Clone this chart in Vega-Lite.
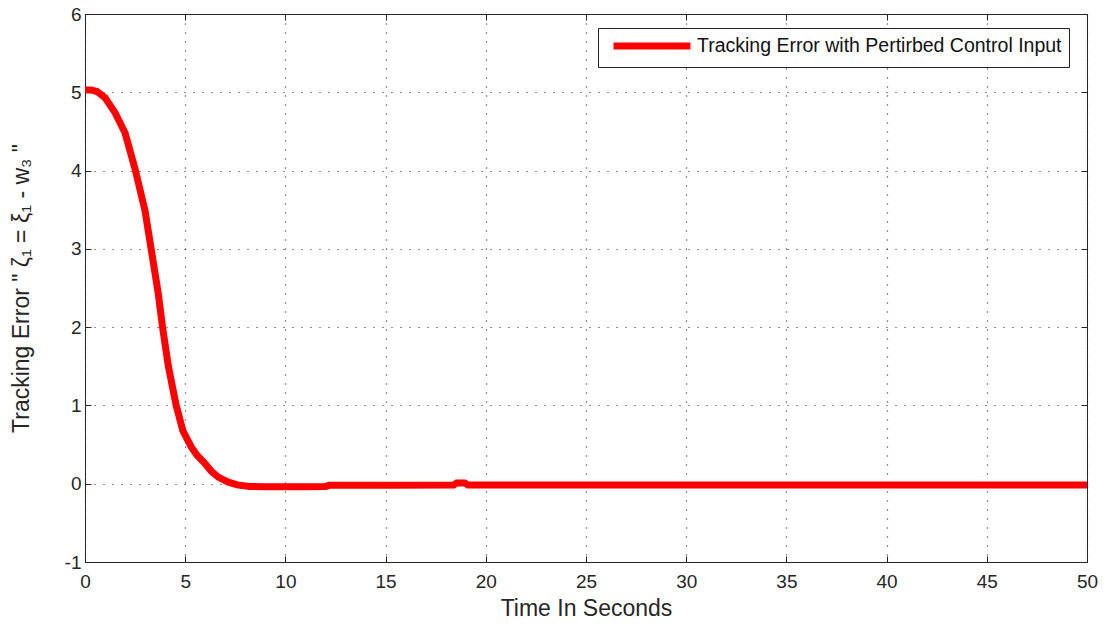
{
  "$schema": "https://vega.github.io/schema/vega-lite/v6.json",
  "autosize": "none",
  "width": 1002,
  "height": 548,
  "padding": {"left": 85, "top": 14, "right": 22, "bottom": 64},
  "background": "white",
  "config": {
    "view": {"stroke": "#262626", "strokeWidth": 1},
    "font": "Liberation Sans",
    "axis": {
      "labelFont": "Liberation Sans",
      "titleFont": "Liberation Sans",
      "labelFontSize": 19,
      "titleFontSize": 23,
      "labelColor": "#262626",
      "titleColor": "#262626",
      "titleFontWeight": "normal",
      "domainColor": "#262626",
      "tickColor": "#262626",
      "gridColor": "#222222",
      "gridOpacity": 1,
      "gridDash": [1, 8],
      "gridWidth": 1.2
    }
  },
  "data": {
    "values": [
      {"t": 0, "v": 5.03, "s": "Tracking Error with Pertirbed Control Input"},
      {"t": 0.3, "v": 5.03, "s": "Tracking Error with Pertirbed Control Input"},
      {"t": 0.6, "v": 5.01, "s": "Tracking Error with Pertirbed Control Input"},
      {"t": 1.0, "v": 4.93, "s": "Tracking Error with Pertirbed Control Input"},
      {"t": 1.5, "v": 4.74, "s": "Tracking Error with Pertirbed Control Input"},
      {"t": 2.0, "v": 4.48, "s": "Tracking Error with Pertirbed Control Input"},
      {"t": 2.5, "v": 4.02, "s": "Tracking Error with Pertirbed Control Input"},
      {"t": 3.0, "v": 3.48, "s": "Tracking Error with Pertirbed Control Input"},
      {"t": 3.3, "v": 3.0, "s": "Tracking Error with Pertirbed Control Input"},
      {"t": 3.65, "v": 2.44, "s": "Tracking Error with Pertirbed Control Input"},
      {"t": 3.87, "v": 2.0, "s": "Tracking Error with Pertirbed Control Input"},
      {"t": 4.16, "v": 1.5, "s": "Tracking Error with Pertirbed Control Input"},
      {"t": 4.55, "v": 1.0, "s": "Tracking Error with Pertirbed Control Input"},
      {"t": 4.88, "v": 0.68, "s": "Tracking Error with Pertirbed Control Input"},
      {"t": 5.3, "v": 0.47, "s": "Tracking Error with Pertirbed Control Input"},
      {"t": 5.6, "v": 0.36, "s": "Tracking Error with Pertirbed Control Input"},
      {"t": 5.98, "v": 0.26, "s": "Tracking Error with Pertirbed Control Input"},
      {"t": 6.3, "v": 0.16, "s": "Tracking Error with Pertirbed Control Input"},
      {"t": 6.65, "v": 0.085, "s": "Tracking Error with Pertirbed Control Input"},
      {"t": 7.15, "v": 0.02, "s": "Tracking Error with Pertirbed Control Input"},
      {"t": 7.6, "v": -0.015, "s": "Tracking Error with Pertirbed Control Input"},
      {"t": 8.2, "v": -0.035, "s": "Tracking Error with Pertirbed Control Input"},
      {"t": 9.0, "v": -0.04, "s": "Tracking Error with Pertirbed Control Input"},
      {"t": 10.0, "v": -0.04, "s": "Tracking Error with Pertirbed Control Input"},
      {"t": 11.0, "v": -0.04, "s": "Tracking Error with Pertirbed Control Input"},
      {"t": 12.0, "v": -0.035, "s": "Tracking Error with Pertirbed Control Input"},
      {"t": 12.2, "v": -0.02, "s": "Tracking Error with Pertirbed Control Input"},
      {"t": 15.0, "v": -0.02, "s": "Tracking Error with Pertirbed Control Input"},
      {"t": 18.4, "v": -0.015, "s": "Tracking Error with Pertirbed Control Input"},
      {"t": 18.55, "v": 0.01, "s": "Tracking Error with Pertirbed Control Input"},
      {"t": 18.95, "v": 0.01, "s": "Tracking Error with Pertirbed Control Input"},
      {"t": 19.1, "v": -0.015, "s": "Tracking Error with Pertirbed Control Input"},
      {"t": 25.0, "v": -0.015, "s": "Tracking Error with Pertirbed Control Input"},
      {"t": 35.0, "v": -0.015, "s": "Tracking Error with Pertirbed Control Input"},
      {"t": 50.0, "v": -0.015, "s": "Tracking Error with Pertirbed Control Input"}
    ]
  },
  "layer": [
    {
      "mark": {"type": "line", "strokeWidth": 7, "clip": true},
      "encoding": {
        "x": {
          "field": "t", "type": "quantitative",
          "scale": {"domain": [0, 50], "nice": false, "zero": false},
          "axis": {
            "title": "Time In Seconds", "values": [0,5,10,15,20,25,30,35,40,45,50],
            "tickSize": -6, "labelPadding": 16, "titlePadding": 6, "grid": true,
            "labelFlush": false, "labelExpr": "'' + datum.value"
          }
        },
        "y": {
          "field": "v", "type": "quantitative",
          "scale": {"domain": [-1, 6], "nice": false, "zero": false},
          "axis": {
            "title": "Tracking Error \" ζ₁ = ξ₁ - w₃ \"", "values": [-1,0,1,2,3,4,5,6],
            "tickSize": -6, "labelPadding": 10, "titlePadding": 31, "grid": true,
            "labelFlush": false, "labelExpr": "'' + datum.value"
          }
        },
        "color": {
          "field": "s", "type": "nominal",
          "scale": {"range": ["#ff0000"]},
          "legend": {
            "title": null, "orient": "none", "legendX": 513, "legendY": 14,
            "symbolType": "M-0.33,0H9.93", "symbolSize": 225, "symbolStrokeWidth": 7,
            "labelFont": "Liberation Sans", "labelFontSize": 19.5, "labelColor": "#111111",
            "strokeColor": "#222222", "fillColor": "white", "padding": 7,
            "labelOffset": 70, "labelLimit": 700
          }
        }
      }
    },
    {
      "mark": {"type": "line", "opacity": 0},
      "encoding": {
        "x": {
          "field": "t", "type": "quantitative",
          "axis": {"orient": "top", "title": null, "labels": false, "grid": false, "tickSize": -6, "values": [0,5,10,15,20,25,30,35,40,45,50]}
        },
        "y": {
          "field": "v", "type": "quantitative",
          "axis": {"orient": "right", "title": null, "labels": false, "grid": false, "tickSize": -6, "values": [-1,0,1,2,3,4,5,6]}
        }
      }
    }
  ],
  "resolve": {"axis": {"x": "independent", "y": "independent"}}
}
